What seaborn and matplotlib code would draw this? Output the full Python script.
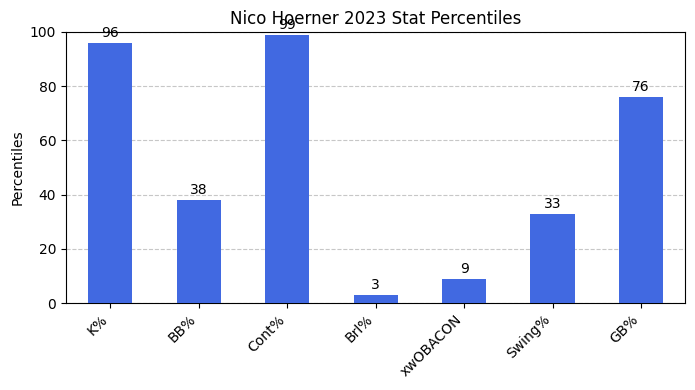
import pandas as pd
import matplotlib
matplotlib.use("Agg")
import matplotlib.pyplot as plt
import seaborn as sns

stats = ['K%', 'BB%', 'Cont%', 'Brl%', 'xwOBACON', 'Swing%', 'GB%']
percentiles = [96, 38, 99, 3, 9, 33, 76]

df = pd.DataFrame({'Stat': stats, 'Percentile': percentiles})

fig, ax = plt.subplots(figsize=(6.95, 3.9), dpi=100)
sns.barplot(data=df, x='Stat', y='Percentile', color='royalblue', saturation=1,
            width=0.5, ax=ax, zorder=3)

# value labels on top of bars
for i, v in enumerate(percentiles):
    ax.text(i, v + 1, str(v), ha='center', va='bottom', fontsize=10)

ax.set_ylim(0, 100)
ax.set_title('Nico Hoerner 2023 Stat Percentiles')
ax.set_ylabel('Percentiles')
ax.set_xlabel('')
ax.yaxis.grid(True, linestyle='--', alpha=0.7, zorder=0)
ax.set_axisbelow(True)
plt.setp(ax.get_xticklabels(), rotation=45, ha='right')

fig.subplots_adjust(left=0.095, right=0.986, top=0.918, bottom=0.223)
plt.savefig('out.png', dpi=100)
